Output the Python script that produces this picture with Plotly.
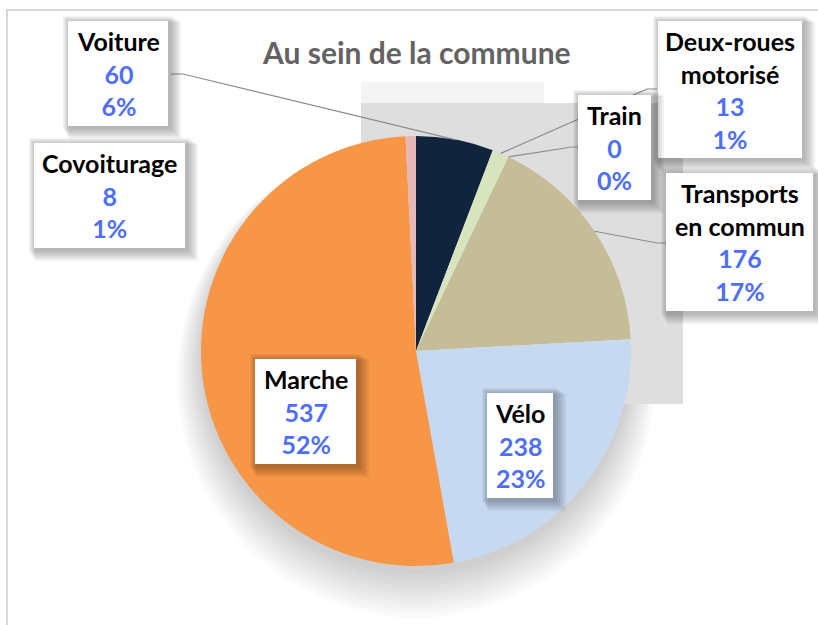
import plotly.graph_objects as go
import math

# ---------------- data ----------------
categories = ["Voiture", "Deux-roues motorisé", "Train", "Transports en commun",
              "Vélo", "Marche", "Covoiturage"]
label_titles = ["Voiture", "Deux-roues<br>motorisé", "Train", "Transports<br>en commun",
                "Vélo", "Marche", "Covoiturage"]
values = [60, 13, 0, 176, 238, 537, 8]
colors = ["#10243E", "#D7E4BD", "#B9CDE5", "#C4BD97", "#C6D9F1", "#F79646", "#E6B9B8"]
title_text = "Au sein de la commune"

# ---------------- layout constants (pixels) ----------------
W, H = 818, 625
CX, CY, R = 416, 351, 215
BLUE = "#4F6EF6"
FONT = "Lato, 'Open Sans', sans-serif"

def px(x):
    return x / W

def py(y):
    return 1 - y / H

# label boxes: x0, y0, x1, y1
boxes = {
    "Voiture": (68, 21, 168, 126),
    "Deux-roues motorisé": (658, 21, 802, 158),
    "Train": (578, 95, 651, 200),
    "Transports en commun": (666, 173, 813, 311),
    "Vélo": (487, 393, 553, 498),
    "Marche": (255, 359, 356, 464),
    "Covoiturage": (34, 143, 185, 248),
}
# leader lines: start point on box, elbow x
leaders = {
    "Voiture": (171, 74, 183),
    "Deux-roues motorisé": (657, 89, 647),
    "Train": (578, 147, 572),
    "Transports en commun": (666, 243, 657),
}

total = sum(values)

fig = go.Figure()
fig.add_trace(go.Pie(
    labels=categories, values=values, sort=False, direction="clockwise",
    rotation=0, marker=dict(colors=colors, line=dict(width=0)),
    textinfo="none", hoverinfo="label+value+percent", showlegend=False,
    domain=dict(x=[px(CX - R), px(CX + R)], y=[py(CY + R), py(CY - R)]),
))

shapes = []
# outer border of chart area
shapes.append(dict(type="rect", xref="paper", yref="paper",
                   x0=px(7), x1=px(W + 5), y0=py(H + 5), y1=py(10),
                   line=dict(color="#D9D9D9", width=2), fillcolor="rgba(0,0,0,0)",
                   layer="below"))
# soft shadow under the pie
for i in range(12):
    rr = R + i * 2.2
    cy = CY + 8 + i * 1.8
    shapes.append(dict(type="circle", xref="paper", yref="paper",
                       x0=px(CX - rr), x1=px(CX + rr), y0=py(cy + rr), y1=py(cy - rr),
                       line=dict(width=0), fillcolor="rgba(0,0,0,0.014)", layer="below"))
# grey shadow blocks behind the pie (Excel label shadow artefacts)
shapes.append(dict(type="rect", xref="paper", yref="paper",
                   x0=px(361), x1=px(544), y0=py(103), y1=py(82),
                   line=dict(width=0), fillcolor="#F4F4F4", layer="below"))
shapes.append(dict(type="rect", xref="paper", yref="paper",
                   x0=px(361), x1=px(683), y0=py(404), y1=py(103),
                   line=dict(width=0), fillcolor="#DEDEDE", layer="below"))

# leader lines computed from slice mid-angles
cum = 0
mid_angles = {}
for c, v in zip(categories, values):
    mid_angles[c] = (cum + v / 2) / total * 2 * math.pi
    cum += v
for c, (sx, sy, ex) in leaders.items():
    a = mid_angles[c]
    ex2 = CX + R * math.sin(a)
    ey2 = CY - R * math.cos(a)
    path = f"M {px(sx)},{py(sy)} L {px(ex)},{py(sy)} L {px(ex2)},{py(ey2)}"
    shapes.append(dict(type="path", xref="paper", yref="paper", path=path,
                       line=dict(color="#8C8C8C", width=1.2), layer="above"))

# label boxes with soft shadows
annotations = []
for c, t, v in zip(categories, label_titles, values):
    x0, y0, x1, y1 = boxes[c]
    for k in range(1, 8):
        shapes.append(dict(type="rect", xref="paper", yref="paper",
                           x0=px(x0 - 6 + k), x1=px(x1 + 2 + k * 1.6), y0=py(y1 + 2 + k * 1.6),
                           y1=py(y0 - 6 + k),
                           line=dict(width=0), fillcolor="rgba(0,0,0,0.045)", layer="above"))
    shapes.append(dict(type="rect", xref="paper", yref="paper",
                       x0=px(x0), x1=px(x1), y0=py(y1), y1=py(y0),
                       line=dict(width=0), fillcolor="white", layer="above"))
    pct = round(v / total * 100)
    txt = (f"<b>{t}</b><br><b><span style='color:{BLUE}'>{v}</span></b>"
           f"<br><b><span style='color:{BLUE}'>{pct}%</span></b>")
    annotations.append(dict(xref="paper", yref="paper", x=px((x0 + x1) / 2),
                            y=py((y0 + y1) / 2), text=txt, showarrow=False,
                            xanchor="center", yanchor="middle", align="center",
                            font=dict(family=FONT, size=25, color="black")))

annotations.append(dict(xref="paper", yref="paper", x=px(416), y=py(52),
                        text=f"<b>{title_text}</b>", showarrow=False,
                        xanchor="center", yanchor="middle",
                        font=dict(family=FONT, size=30, color="#636363")))

fig.update_layout(width=W, height=H, margin=dict(l=0, r=0, t=0, b=0),
                  paper_bgcolor="white", plot_bgcolor="white",
                  shapes=shapes, annotations=annotations)

fig.write_html("out.html", config={"displayModeBar": False},
               post_script="document.body.style.margin='0px';")
